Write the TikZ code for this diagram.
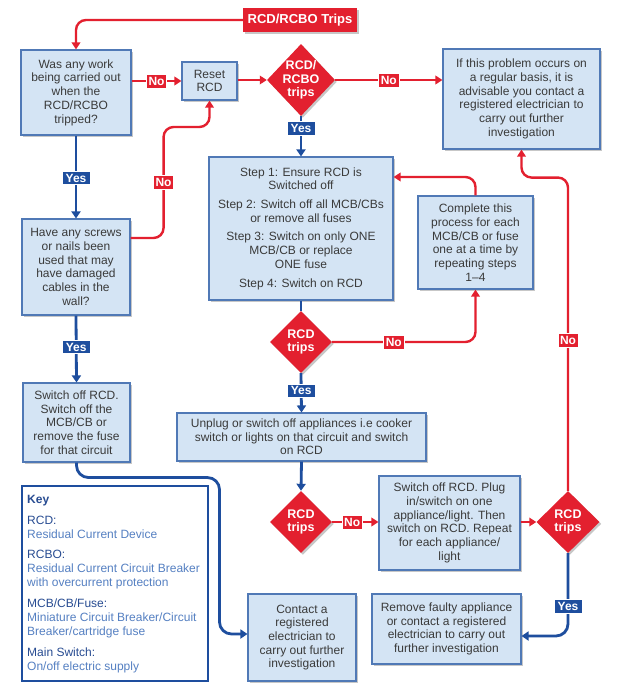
\documentclass[tikz,border=0pt]{standalone}
\usepackage{fontspec}
\setmainfont{Liberation Sans}
\usetikzlibrary{arrows.meta,shapes.geometric,shadows,calc}
\definecolor{rcdred}{HTML}{E3202F}
\definecolor{rcdblue}{HTML}{1E4E9E}
\definecolor{boxfill}{HTML}{D4E4F4}
\definecolor{boxline}{HTML}{5079B6}
\definecolor{boxtext}{HTML}{3A3A3A}
\definecolor{keyterm}{HTML}{284C92}
\definecolor{keydef}{HTML}{5580C2}
\tikzset{
  softshadow/.style={drop shadow={shadow xshift=1.8pt, shadow yshift=-1.8pt, fill=black, opacity=0.22}},
  flowbox/.style={draw=boxline, line width=1.1pt, fill=boxfill, text=boxtext,
    font=\fontsize{12}{13.7}\selectfont, align=center, inner sep=0pt, softshadow},
  decision/.style={diamond, aspect=1, fill=rcdred, text=white,
    font=\bfseries\fontsize{12.5}{13.6}\selectfont, align=center, inner sep=-16pt, softshadow},
  nolab/.style={sharp corners, rectangle, fill=rcdred, text=white, draw=white, line width=0.6pt,
    font=\bfseries\fontsize{12}{12}\selectfont, inner xsep=2.2pt, inner ysep=2.4pt,
    text height=8.8pt, text depth=0pt},
  yeslab/.style={sharp corners, rectangle, fill=rcdblue, text=white, draw=white, line width=0.6pt,
    font=\bfseries\fontsize{12}{12}\selectfont, inner xsep=3.5pt, inner ysep=2.2pt,
    text height=8.8pt, text depth=0pt},
  redline/.style={draw=rcdred, line width=2.4pt, rounded corners=10pt,
    -{Triangle[length=7pt,width=8.5pt]}},
  blueline/.style={draw=rcdblue, line width=2.8pt, rounded corners=12pt,
    -{Triangle[length=7pt,width=9pt]}},
  keyframe/.style={draw=rcdblue, line width=2pt, fill=white, inner sep=0pt},
}
\begin{document}
\begin{tikzpicture}[x=1pt,y=-1pt]
\useasboundingbox (0,0) rectangle (617,693);
\fill[white] (0,0) rectangle (617,693);

% nodes
\node[fill=rcdred, text=white, font=\bfseries\fontsize{13}{13}\selectfont,
  minimum width=114pt, minimum height=24pt, inner sep=0pt, softshadow] (title) at (300,20) {RCD/RCBO Trips};

\node[flowbox, minimum width=110pt, minimum height=85pt] (box1) at (76,92.5)
  {Was any work\\being carried out\\when the\\RCD/RCBO\\tripped?};
\node[flowbox, minimum width=55pt, minimum height=38pt] (reset) at (209.5,81) {Reset\\RCD};
\node[decision, minimum width=68pt, minimum height=72pt] (d1) at (301,80) {RCD/\\RCBO\\trips};
\node[flowbox, minimum width=157pt, minimum height=100pt] (ifbox) at (521.5,99)
  {If this problem occurs on\\a regular basis, it is\\advisable you contact a\\registered electrician to\\carry out further\\investigation};

\node[flowbox, minimum width=108pt, minimum height=96pt] (box2) at (76,267)
  {Have any screws\\or nails been\\used that may\\have damaged\\cables in the\\wall?};
\node[flowbox, minimum width=184pt, minimum height=143pt] (step) at (301,228.5)
  {Step 1: Ensure RCD is\\Switched off\\[5pt]Step 2: Switch off all MCB/CBs\\or remove all fuses\\[5pt]Step 3: Switch on only ONE\\MCB/CB or replace\\ONE fuse\\[5pt]Step 4: Switch on RCD};
\node[flowbox, minimum width=115pt, minimum height=93pt] (complete) at (475.5,242.5)
  {Complete this\\process for each\\MCB/CB or fuse\\one at a time by\\repeating steps\\1–4};
\node[decision, minimum width=62pt, minimum height=62pt] (d2) at (301,342) {RCD\\trips};

\node[flowbox, minimum width=107pt, minimum height=79pt] (switchoff) at (76.5,422.5)
  {Switch off RCD.\\Switch off the\\MCB/CB or\\remove the fuse\\for that circuit};
\node[flowbox, minimum width=249pt, minimum height=48pt] (unplug) at (301.5,437)
  {Unplug or switch off appliances i.e cooker\\switch or lights on that circuit and switch\\on RCD};
\node[decision, minimum width=62pt, minimum height=62pt] (d3) at (301,522) {RCD\\trips};
\node[flowbox, minimum width=141pt, minimum height=94pt] (switchbox) at (449.5,523)
  {Switch off RCD. Plug\\in/switch on one\\appliance/light. Then\\switch on RCD. Repeat\\for each appliance/\\light};
\node[decision, minimum width=63pt, minimum height=62pt] (d4) at (568,522) {RCD\\trips};

\node[flowbox, minimum width=108pt, minimum height=87pt] (contact) at (302,637.5)
  {Contact a\\registered\\electrician to\\carry out further\\investigation};
\node[flowbox, minimum width=149pt, minimum height=70pt] (remove) at (446.5,629)
  {Remove faulty appliance\\or contact a registered\\electrician to carry out\\further investigation};

\node[keyframe, minimum width=186pt, minimum height=195pt] (keybox) at (115,583.5) {};
\node[anchor=north west, align=left, inner sep=0pt, font=\fontsize{12}{14.2}\selectfont] (keytext)
  at ($(keybox.north west)+(6,10)$)
  {{\bfseries\color{keyterm}Key}\\[6.5pt]
   {\color{keyterm}RCD:}\\
   {\color{keydef}Residual Current Device}\\[5.5pt]
   {\color{keyterm}RCBO:}\\
   {\color{keydef}Residual Current Circuit Breaker}\\
   {\color{keydef}with overcurrent protection}\\[6.5pt]
   {\color{keyterm}MCB/CB/Fuse:}\\
   {\color{keydef}Miniature Circuit Breaker/Circuit}\\
   {\color{keydef}Breaker/cartridge fuse}\\[7pt]
   {\color{keyterm}Main Switch:}\\
   {\color{keydef}On/off electric supply}};

% connectors
\draw[redline] (title.west) -| (box1.north);
\draw[redline] (box1.east |- reset.west) -- node[nolab]{No} (reset.west);
\draw[redline] (reset.east |- d1.west) -- (d1.west);
\draw[redline] (d1.east) -- node[nolab]{No} (ifbox.west |- d1.east);
\draw[blueline] (d1.south) -- node[yeslab,pos=0.3]{Yes} (step.north);

\draw[blueline] (box1.south) -- node[yeslab,pos=0.51]{Yes} (box2.north);
\draw[redline] ([yshift=29pt]box2.east) -- ++(33,0) -- node[nolab]{No} ++(0,-111) -| (reset.south);
\draw[blueline] (box2.south) -- node[yeslab,pos=0.47]{Yes} (switchoff.north);

\draw[redline] (complete.north) |- ([yshift=51.5pt]step.east);
\draw[blueline,-] (step.south) -- (d2.north);
\draw[redline] (d2.east) -| node[nolab,pos=0.215]{No} (complete.south);
\draw[blueline] (d2.south) -- node[yeslab,pos=0.44]{Yes} (unplug.north);

\draw[blueline] (unplug.south) -- (d3.north);
\draw[redline] (d3.east) -- node[nolab,pos=0.43]{No} (switchbox.west |- d3.east);
\draw[redline] (switchbox.east |- d4.west) -- (d4.west);
\draw[redline] (d4.north) |- node[nolab,pos=0.24]{No} ($(ifbox.south)+(0,28)$) -- (ifbox.south);
\draw[blueline] (d4.south) |- node[yeslab,pos=0.32]{Yes} ($(remove.east)+(0,7)$);

\draw[blueline] (switchoff.south) -- ++(0,15) -- ++(143,0) |- ($(contact.west)+(0,-3.5)$);
\end{tikzpicture}
\end{document}
